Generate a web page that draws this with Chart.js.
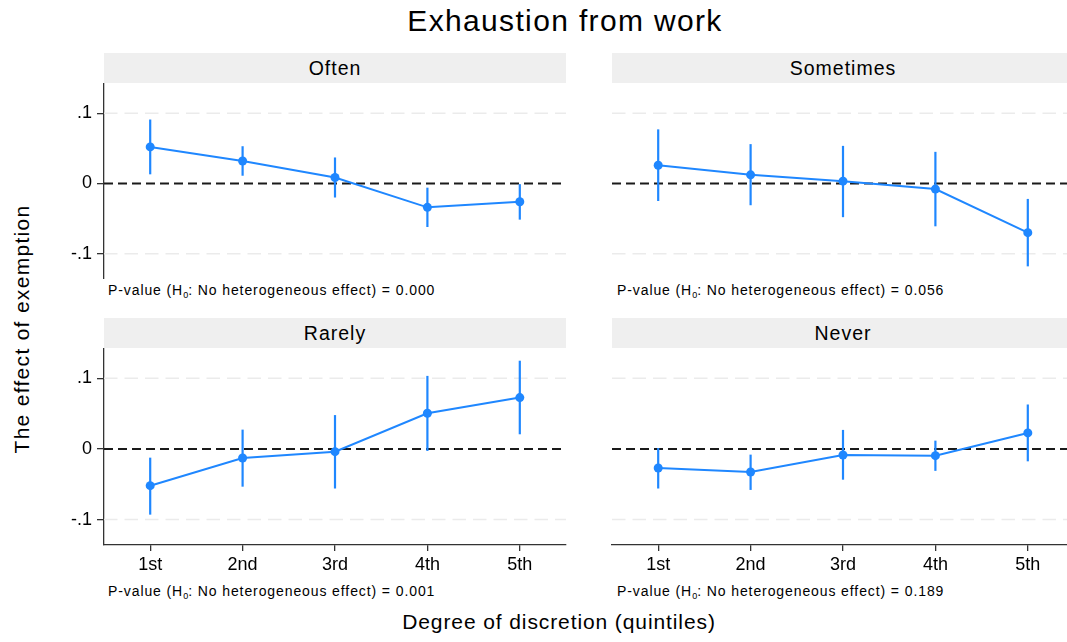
<!DOCTYPE html>
<html>
<head>
<meta charset="utf-8">
<title>Exhaustion from work</title>
<script src="https://cdn.jsdelivr.net/npm/chart.js@4.4.1/dist/chart.umd.min.js"></script>
<style>
  html, body { margin: 0; padding: 0; background: #fff; overflow: hidden; }
  #wrap { position: relative; width: 1067px; height: 642px; overflow: hidden;
          font-family: "Liberation Sans", Arial, Helvetica, sans-serif; color: #000; }
  .txt { position: absolute; white-space: nowrap; }
  .title { left: 0; width: 1130px; top: 4px; text-align: center; font-size: 30px; letter-spacing: 1.35px; }
  .hdr { position: absolute; background: #efefef; height: 30px; line-height: 30px;
         text-align: center; font-size: 19.5px; width: 462px; letter-spacing: 1px; }
  .pval { font-size: 14px; letter-spacing: 0.9px; }
  .pval sub { font-size: 9px; vertical-align: -3px; line-height: 0; letter-spacing: 0; }
  .ytitle { left: 22px; top: 329px; font-size: 21px; letter-spacing: 1.3px;
            transform: translate(-50%, -50%) rotate(-90deg); }
  .xtitle { left: -6px; width: 1130px; top: 610px; text-align: center; font-size: 21px; letter-spacing: 0.9px; }
  canvas { position: absolute; }
</style>
</head>
<body>
<div id="wrap">
  <div class="txt title">Exhaustion from work</div>

  <div class="hdr" style="left:104px; top:53px;" id="h0"></div>
  <div class="hdr" style="left:612px; top:53px;" id="h1"></div>
  <div class="hdr" style="left:104px; top:318px;" id="h2"></div>
  <div class="hdr" style="left:612px; top:318px;" id="h3"></div>

  <canvas id="c0" style="left:50px;  top:83px;"></canvas>
  <canvas id="c1" style="left:608px; top:83px;"></canvas>
  <canvas id="c2" style="left:50px;  top:348px;"></canvas>
  <canvas id="c3" style="left:608px; top:348px;"></canvas>

  <div class="txt pval" style="left:108px; top:282px;" id="p0"></div>
  <div class="txt pval" style="left:617px; top:282px;" id="p1"></div>
  <div class="txt pval" style="left:108px; top:583px;" id="p2"></div>
  <div class="txt pval" style="left:617px; top:583px;" id="p3"></div>

  <div class="txt ytitle">The effect of exemption</div>
  <div class="txt xtitle">Degree of discretion (quintiles)</div>
</div>

<script>
// Quintiles of the discretion index
const quintiles = ['1st', '2nd', '3rd', '4th', '5th'];

// Panel titles (how often the respondent feels exhausted from work)
const panelNames = ['Often', 'Sometimes', 'Rarely', 'Never'];

// Point estimates and 95% confidence bounds, by quintile
const oftenEst = [0.052, 0.032, 0.0085, -0.034, -0.026];
const oftenLo  = [0.013, 0.011, -0.020, -0.062, -0.0515];
const oftenHi  = [0.091, 0.053, 0.037, -0.006, -0.001];

const sometimesEst = [0.026, 0.0123, 0.0033, -0.008, -0.070];
const sometimesLo  = [-0.025, -0.031, -0.048, -0.061, -0.118];
const sometimesHi  = [0.077, 0.056, 0.0535, 0.045, -0.022];

const rarelyEst = [-0.052, -0.0128, -0.0038, 0.0506, 0.0728];
const rarelyLo  = [-0.093, -0.0534, -0.056, -0.0028, 0.0208];
const rarelyHi  = [-0.0123, 0.0274, 0.048, 0.1035, 0.125];

const neverEst = [-0.027, -0.0326, -0.0085, -0.0095, 0.0227];
const neverLo  = [-0.056, -0.058, -0.0435, -0.031, -0.0175];
const neverHi  = [0.0014, -0.008, 0.027, 0.0118, 0.063];

// Joint test of no heterogeneous effect
const pValues = ['0.000', '0.056', '0.001', '0.189'];

// Y-axis ticks and their labels
const yTicks = [-0.1, 0, 0.1];
const yTickLabels = ['-.1', '0', '.1'];

const BLUE = '#1f87ff';
const FONT = '"Liberation Sans", Arial, Helvetica, sans-serif';

// Panel headers and footnotes
panelNames.forEach((n, i) => {
  document.getElementById('h' + i).textContent = n;
  document.getElementById('p' + i).innerHTML =
    'P-value (H<sub>0</sub>: No heterogeneous effect) = ' + pValues[i];
});

// Reference lines (light dashed at ±.1, black dashed at 0) and CI whiskers
const guides = {
  id: 'guides',
  beforeDatasetsDraw(chart, args, opts) {
    const { ctx, chartArea: a, scales: { x, y } } = chart;
    ctx.save();
    yTicks.forEach(v => {
      const py = y.getPixelForValue(v);
      ctx.beginPath();
      if (v === 0) {
        ctx.strokeStyle = '#1a1a1a'; ctx.lineWidth = 2; ctx.setLineDash([9, 5]);
      } else {
        ctx.strokeStyle = '#ebebeb'; ctx.lineWidth = 1.5; ctx.setLineDash([13.5, 7]);
      }
      ctx.moveTo(a.left, py);
      ctx.lineTo(a.right, py);
      ctx.stroke();
    });
    ctx.setLineDash([]);
    ctx.strokeStyle = BLUE;
    ctx.lineWidth = 2.2;
    opts.lo.forEach((lo, i) => {
      const px = x.getPixelForValue(i + 1);
      ctx.beginPath();
      ctx.moveTo(px, y.getPixelForValue(lo));
      ctx.lineTo(px, y.getPixelForValue(opts.hi[i]));
      ctx.stroke();
    });
    ctx.restore();
  }
};

function noPad(s) {
  s.paddingTop = 0; s.paddingBottom = 0; s.paddingLeft = 0; s.paddingRight = 0;
}

function makePanel(id, est, lo, hi, showY, showX, width, height, padL) {
  const cv = document.getElementById(id);
  cv.width = width; cv.height = height;
  cv.style.width = width + 'px'; cv.style.height = height + 'px';
  return new Chart(cv, {
    type: 'line',
    data: {
      datasets: [{
        data: est.map((v, i) => ({ x: i + 1, y: v })),
        borderColor: BLUE,
        backgroundColor: BLUE,
        borderWidth: 2,
        pointRadius: 4.5,
        pointBorderWidth: 0,
        pointBackgroundColor: BLUE,
        tension: 0
      }]
    },
    options: {
      responsive: false,
      animation: false,
      devicePixelRatio: 1,
      layout: { padding: { left: padL, right: 4, top: 0, bottom: 0 }, autoPadding: false },
      plugins: {
        legend: { display: false },
        tooltip: { enabled: false },
        guides: { lo: lo, hi: hi }
      },
      scales: {
        x: {
          type: 'linear',
          min: 0.5, max: 5.5,
          display: showX,
          afterBuildTicks: s => { s.ticks = quintiles.map((_, i) => ({ value: i + 1 })); },
          afterFit: s => { noPad(s); if (showX) s.height = 35; },
          ticks: {
            callback: v => quintiles[v - 1],
            color: '#000',
            font: { family: FONT, size: 18 },
            padding: 3,
            maxRotation: 0,
            autoSkip: false
          },
          grid: { display: true, drawOnChartArea: false, drawTicks: true, tickLength: 6,
                  color: '#333', lineWidth: 1.3 },
          border: { display: true, color: '#333', width: 1.3 }
        },
        y: {
          type: 'linear',
          min: -0.136, max: 0.143,
          display: showY,
          afterBuildTicks: s => { s.ticks = yTicks.map(v => ({ value: v })); },
          afterFit: s => { noPad(s); if (showY) s.width = 54; },
          ticks: {
            callback: v => yTickLabels[yTicks.indexOf(v)],
            color: '#000',
            font: { family: FONT, size: 18 },
            padding: 5
          },
          grid: { display: true, drawOnChartArea: false, drawTicks: true, tickLength: 7,
                  color: '#333', lineWidth: 1.3 },
          border: { display: true, color: '#333', width: 1.3 }
        }
      }
    },
    plugins: [guides]
  });
}

makePanel('c0', oftenEst, oftenLo, oftenHi, true, false, 520, 196, 0);
makePanel('c1', sometimesEst, sometimesLo, sometimesHi, false, false, 470, 196, 4);
makePanel('c2', rarelyEst, rarelyLo, rarelyHi, true, true, 520, 232, 0);
makePanel('c3', neverEst, neverLo, neverHi, false, true, 470, 232, 4);
</script>
</body>
</html>
